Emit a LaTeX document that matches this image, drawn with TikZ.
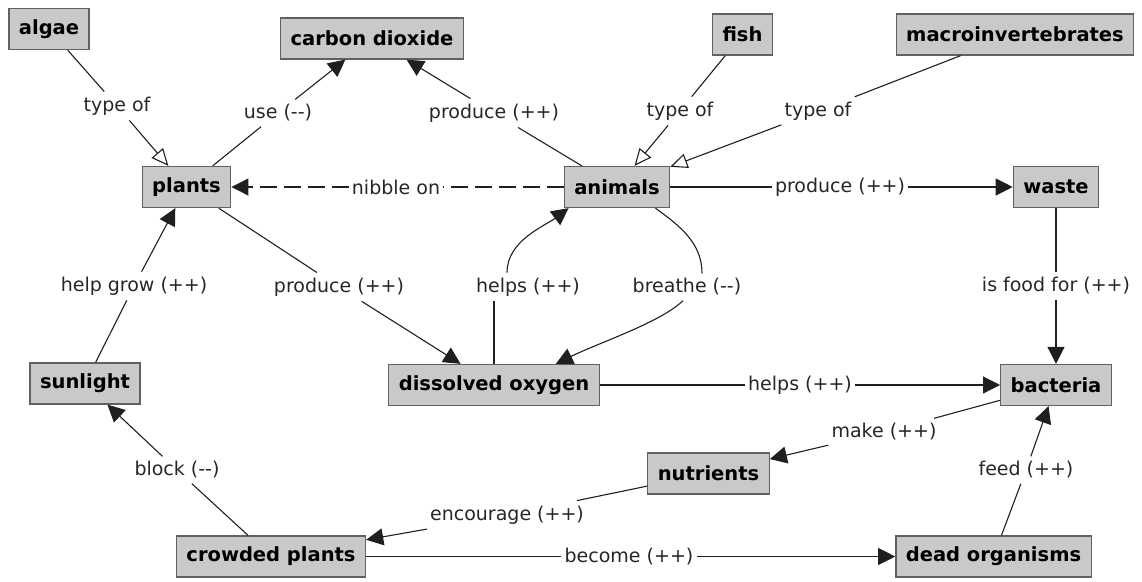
\documentclass[tikz,border=0pt]{standalone}
\usepackage{fontspec}
\setmainfont{DejaVu Sans}
\usetikzlibrary{arrows.meta}
\begin{document}
\begin{tikzpicture}[x=1pt,y=-1pt,
  concept/.style={draw=black!62, line width=1.3pt, fill=black!21,
    font=\fontsize{19.5}{22}\selectfont\bfseries, inner xsep=10pt,
    minimum height=41pt},
  rel/.style={font=\fontsize{19}{22}\selectfont, text=black!85,
    inner xsep=3pt, inner ysep=5pt},
  link/.style={draw=black!88, line width=1.1pt},
  tip/.style={link, -{Triangle[length=17pt,width=17pt]}},
  isa/.style={link, -{Triangle[open,length=17pt,width=15pt,fill=white]}},
  nibble/.style={dash pattern=on 17pt off 7pt},
]
\useasboundingbox (0,0) rectangle (1142,581);

% concepts
\node[concept] (algae)   at (49,29)      {algae};
\node[concept] (co2)     at (372,38.5)   {carbon dioxide};
\node[concept] (fish)    at (742.5,34.5) {fish};
\node[concept] (macro)   at (1015,34.5)  {macroinvertebrates};
\node[concept] (plants)  at (186.5,187)  {plants};
\node[concept] (animals) at (617,187)    {animals};
\node[concept] (waste)   at (1056,187)   {waste};
\node[concept] (sun)     at (85,383.5)   {sunlight};
\node[concept] (oxygen)  at (494,385)    {dissolved oxygen};
\node[concept] (bact)    at (1056,385)   {bacteria};
\node[concept] (nutr)    at (708.5,473.5){nutrients};
\node[concept] (crowd)   at (271,556.5)  {crowded plants};
\node[concept] (dead)    at (993.5,556.5){dead organisms};

% relation labels
\node[rel] (l1)  at (117,106)  {type of};
\node[rel] (l2)  at (278,113)  {use (-{}-)};
\node[rel] (l3)  at (494,113)  {produce (++)};
\node[rel] (l4)  at (680,111)  {type of};
\node[rel] (l5)  at (818,111)  {type of};
\node[rel] (l6)  at (396,187)  {nibble on};
\node[rel] (l7)  at (840,187)  {produce (++)};
\node[rel] (l8)  at (134,286)  {help grow (++)};
\node[rel] (l9)  at (339,287)  {produce (++)};
\node[rel] (l10) at (528,287)  {helps (++)};
\node[rel] (l11) at (687,287)  {breathe (-{}-)};
\node[rel] (l12) at (1056,286) {is food for (++)};
\node[rel] (l13) at (800,385)  {helps (++)};
\node[rel] (l14) at (884,432)  {make (++)};
\node[rel] (l15) at (1026,470) {feed (++)};
\node[rel] (l16) at (177,470)  {block (-{}-)};
\node[rel] (l17) at (507,515)  {encourage (++)};
\node[rel] (l18) at (629,556.5){become (++)};

% connectors
\draw[link] (algae) -- (l1);   \draw[isa] (l1) -- (plants);
\draw[link] (plants) -- (l2);  \draw[tip] (l2) -- (co2);
\draw[link] (animals) -- (l3); \draw[tip] (l3) -- (co2);
\draw[link] (fish) -- (l4);    \draw[isa] (l4) -- (animals);
\draw[link] (macro) -- (l5);   \draw[isa] (l5) -- (animals);
\draw[link,nibble] (animals) -- (l6); \draw[tip,nibble] (l6) -- (plants);
\draw[link] (animals) -- (l7); \draw[tip] (l7) -- (waste);
\draw[link] (sun) -- (l8);     \draw[tip] (l8) -- (plants);
\draw[link] (plants) -- (l9);  \draw[tip] (l9) -- (oxygen);

% oxygen <-> animals loop
\draw[link] (oxygen.north) -- (oxygen.north |- l10.south);
\draw[tip] ([xshift=-21pt]l10.north) .. controls +(0,-32) and +(-24,18) .. ([xshift=5pt]animals.south west);
\draw[link] ([xshift=-15pt]animals.south east) .. controls +(25,18) and +(0,-30) .. ([xshift=15pt]l11.north);
\draw[tip] ([xshift=-4pt]l11.south) .. controls +(-23,22) and +(45,-22) .. ([xshift=-44pt]oxygen.north east);

\draw[link] (waste) -- (l12);  \draw[tip] (l12) -- (bact);
\draw[link] (oxygen) -- (l13); \draw[tip] (l13) -- (bact);
\draw[link] (bact) -- (l14);   \draw[tip] (l14) -- (nutr);
\draw[link] (dead) -- (l15);   \draw[tip] (l15) -- (bact);
\draw[link] (crowd) -- (l16);  \draw[tip] (l16) -- (sun);
\draw[link] (nutr) -- (l17);   \draw[tip] (l17) -- (crowd);
\draw[link] (crowd) -- (l18);  \draw[tip] (l18) -- (dead);
\end{tikzpicture}
\end{document}
